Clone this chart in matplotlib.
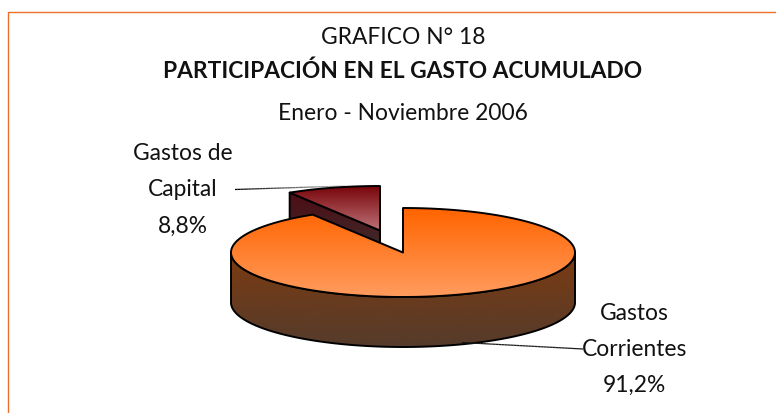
import numpy as np
import matplotlib
matplotlib.use("Agg")
import matplotlib.pyplot as plt
from matplotlib.colors import LinearSegmentedColormap
from matplotlib.patches import Polygon, Rectangle
from matplotlib.collections import LineCollection

# Data
categories = ["Gastos Corrientes", "Gastos de Capital"]
values = [91.2, 8.8]
label_big = ["Gastos", "Corrientes", "91,2%"]
label_small = ["Gastos de", "Capital", "8,8%"]
title_lines = ["GRAFICO N° 18", "PARTICIPACIÓN EN EL GASTO ACUMULADO", "Enero - Noviembre 2006"]

W, H = 776, 413
plt.rcParams["font.family"] = ["Lato", "Liberation Sans", "DejaVu Sans"]
fig = plt.figure(figsize=(W / 100, H / 100), dpi=100, facecolor="white")
ax = fig.add_axes([0, 0, 1, 1])
ax.set_xlim(0, W)
ax.set_ylim(H, 0)
ax.axis("off")

CX, CY, A, B, DEPTH = 403, 252.5, 172, 44.5, 50
EX, EY = -23, -22


def grad(poly, c0, c1, y0, y1, z):
    cmap = LinearSegmentedColormap.from_list("g", [c0, c1])
    g = np.linspace(0, 1, 256).reshape(-1, 1)
    im = ax.imshow(g, cmap=cmap, extent=(0, W, y1, y0), aspect="auto", zorder=z, interpolation="bilinear")
    patch = Polygon(poly, closed=True, transform=ax.transData, fc="none", ec="none")
    ax.add_patch(patch)
    im.set_clip_path(patch)
    ax.add_patch(Polygon(poly, closed=True, fc="none", ec="black", lw=1.4, zorder=z + 0.5, joinstyle="round"))


frac_big = values[0] / sum(values)
end_angle = 360 * frac_big  # clockwise from 12 o'clock, in true pie angle

# Exploded small slice (drawn first; big slice overlaps it)
sx, sy = CX + EX, CY + EY
tt = np.radians(np.linspace(end_angle, 360, 40))
xs = sx + A * np.sin(tt)
ys = sy - B * np.cos(tt)
arc_small = np.column_stack([xs, ys])
wall = np.array([[xs[0], ys[0]], [sx, sy], [sx, sy + DEPTH], [xs[0], ys[0] + DEPTH]])
grad(wall, "#4d0c12", "#40282a", sy - 40, sy + 15, 2)
top_small = np.vstack([[sx, sy], arc_small])
grad(top_small, "#760208", "#bc7276", sy - B, sy, 3)

# Big slice: side wall visible along the front half
tb = np.linspace(0, end_angle, 300)
rb = np.radians(tb)
bx = CX + A * np.sin(rb)
by = CY - B * np.cos(rb)
front = (tb >= 90) & (tb <= 270)
fx, fy = bx[front], by[front]
side = np.vstack([np.column_stack([fx, fy]), np.column_stack([fx[::-1], fy[::-1] + DEPTH])])
grad(side, "#7c3b10", "#553b2c", CY, CY + B + DEPTH, 4)
top_big = np.vstack([[CX, CY], np.column_stack([bx, by])])
grad(top_big, "#ff6400", "#ff9c5e", CY - B, CY + B, 5)


# Leader lines with a fading tail
def leader(p0, p1, c0, c1, z):
    n = 40
    x = np.linspace(p0[0], p1[0], n + 1)
    y = np.linspace(p0[1], p1[1], n + 1)
    seg = np.stack([np.column_stack([x[:-1], y[:-1]]), np.column_stack([x[1:], y[1:]])], axis=1)
    c = np.linspace(c0, c1, n)
    ax.add_collection(LineCollection(seg, colors=np.column_stack([c, c, c]), linewidths=0.9, zorder=z))


leader((235, 189.5), (345, 186), 0.0, 0.75, 1)
leader((583, 349), (462, 342.5), 0.1, 0.1, 6)

# Titles
fs = 16.4
ink = "#111111"
ax.text(403, 37, title_lines[0], ha="center", va="center", fontsize=fs, color=ink)
ax.text(403, 71, title_lines[1], ha="center", va="center", fontsize=fs, fontweight="bold", color=ink)
ax.text(403, 113, title_lines[2], ha="center", va="center", fontsize=fs, color=ink)

# Labels
for txt, y in zip(label_big, [313, 349, 385]):
    ax.text(634.5, y, txt, ha="center", va="center", fontsize=fs, color=ink)
for txt, y in zip(label_small, [154, 190, 226]):
    ax.text(183, y, txt, ha="center", va="center", fontsize=fs, color=ink)

# Border
ax.add_patch(Rectangle((7.5, 11.5), W, H, fc="none", ec="#e8702a", lw=1, zorder=10))

fig.savefig("out.png", dpi=100, facecolor="white")
